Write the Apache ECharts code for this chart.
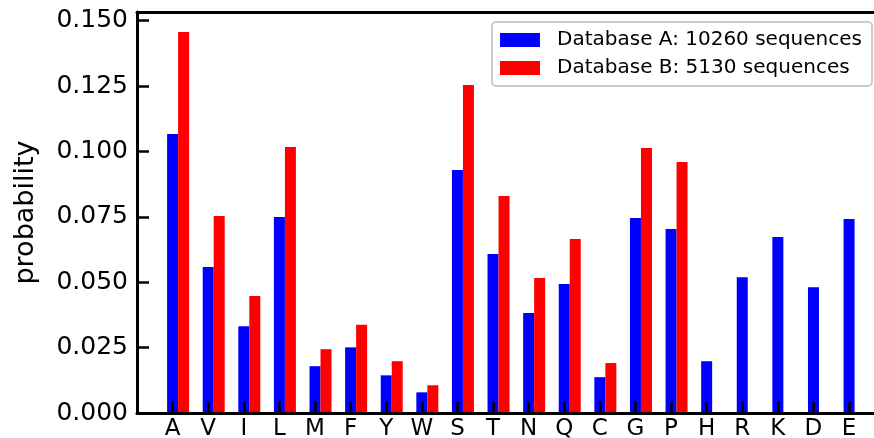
<!DOCTYPE html>
<html>
<head>
<meta charset="utf-8">
<script src="https://cdn.jsdelivr.net/npm/echarts@6/dist/echarts.min.js"></script>
<style>
  html, body { margin: 0; padding: 0; background: #fff; }
  #chart { width: 874px; height: 438px; }
</style>
</head>
<body>
<div id="chart"></div>
<script>
var categories = ['A', 'V', 'I', 'L', 'M', 'F', 'Y', 'W', 'S', 'T', 'N', 'Q', 'C', 'G', 'P', 'H', 'R', 'K', 'D', 'E'];
var dbA = [0.1067, 0.0558, 0.0332, 0.0749, 0.0179, 0.0251, 0.0144, 0.0079, 0.0929, 0.0608,
           0.0382, 0.0493, 0.0137, 0.0745, 0.0703, 0.0198, 0.0519, 0.0673, 0.0481, 0.0742];
var dbB = [0.1457, 0.0753, 0.0447, 0.1017, 0.0244, 0.0337, 0.0198, 0.0106, 0.1254, 0.0830,
           0.0516, 0.0665, 0.0191, 0.1013, 0.0960, 0, 0, 0, 0, 0];
var nameA = 'Database A: 10260 sequences';
var nameB = 'Database B: 5130 sequences';

var font = 'DejaVu Sans';
var chart = echarts.init(document.getElementById('chart'));

function pairs(vals) {
    return categories.map(function (c, i) { return [i, vals[i]]; });
}

var option = {
    animation: false,
    textStyle: { fontFamily: font },
    grid: { left: 137, top: 12, right: 0, bottom: 25, outerBoundsMode: 'none' },
    legend: {
        data: [nameA, nameB],
        orient: 'vertical',
        right: 2,
        top: 22,
        icon: 'rect',
        itemWidth: 40,
        itemHeight: 14,
        itemGap: 8,
        padding: [8, 10, 8, 8],
        borderColor: '#cccccc',
        borderWidth: 2,
        borderRadius: 4,
        backgroundColor: 'rgba(255,255,255,0.8)',
        textStyle: { fontFamily: font, fontSize: 20, color: '#000', padding: [0, 0, 0, 12] }
    },
    xAxis: [{
        type: 'value',
        min: -1,
        max: 19.7,
        interval: 1,
        z: 10,
        splitLine: { show: false },
        axisLine: { onZero: false, lineStyle: { color: '#000', width: 3 } },
        axisTick: { inside: true, length: 12, lineStyle: { color: '#000', width: 2.5 } },
        axisLabel: {
            margin: 5,
            fontFamily: font,
            fontSize: 23,
            color: '#000',
            showMinLabel: false,
            showMaxLabel: false,
            formatter: function (v) { return categories[v] || ''; }
        }
    }, {
        type: 'value',
        position: 'top',
        min: -1,
        max: 19.7,
        axisLine: { show: true, onZero: false, lineStyle: { color: '#000', width: 3 } },
        axisTick: { show: false },
        axisLabel: { show: false },
        splitLine: { show: false }
    }],
    yAxis: {
        type: 'value',
        min: 0,
        max: 0.1533,
        interval: 0.025,
        name: 'probability',
        nameLocation: 'middle',
        nameGap: 98,
        nameTextStyle: { fontFamily: font, fontSize: 27, color: '#000' },
        splitLine: { show: false },
        axisLine: { show: true, onZero: false, lineStyle: { color: '#000', width: 3 } },
        axisTick: { inside: true, length: 12, lineStyle: { color: '#000', width: 2.5 } },
        axisLabel: {
            margin: 9,
            fontFamily: font,
            fontSize: 25,
            color: '#000',
            showMaxLabel: false,
            formatter: function (v) { return v.toFixed(3); }
        }
    },
    series: [{
        // empty slot so that the blue bar sits centred on the tick
        name: 'slot',
        type: 'bar',
        barWidth: 11,
        barGap: '0%',
        data: []
    }, {
        name: nameA,
        type: 'bar',
        barWidth: 11,
        barGap: '0%',
        itemStyle: { color: '#0000ff' },
        data: pairs(dbA)
    }, {
        name: nameB,
        type: 'bar',
        barWidth: 11,
        barGap: '0%',
        itemStyle: { color: '#ff0000' },
        data: pairs(dbB)
    }]
};
chart.setOption(option);
</script>
</body>
</html>
